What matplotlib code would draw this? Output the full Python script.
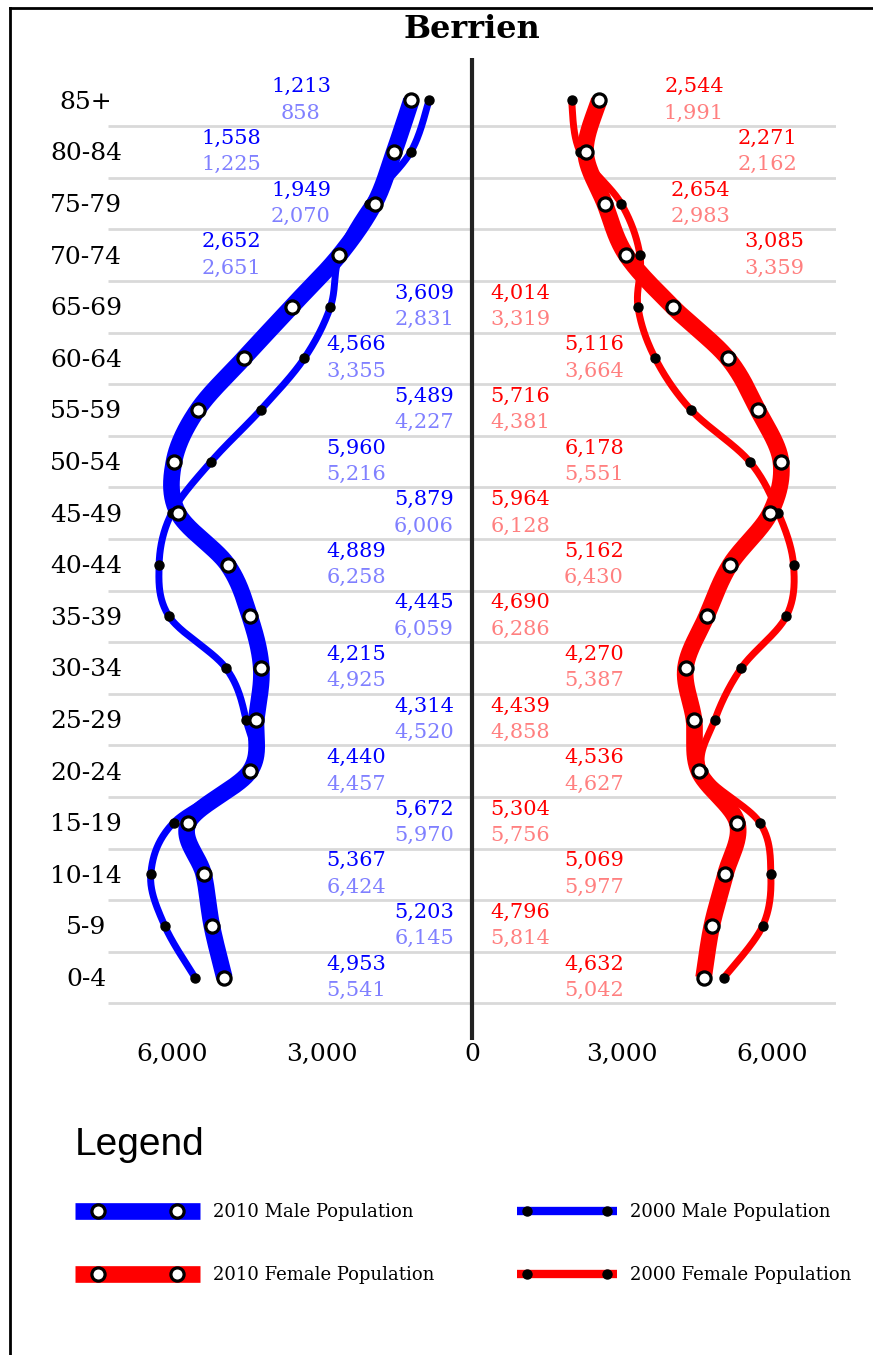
import numpy as np
import matplotlib
matplotlib.use('Agg')
import matplotlib.pyplot as plt
from matplotlib.lines import Line2D
from matplotlib.legend_handler import HandlerBase

# ---------------- data ----------------
age_groups = ['0-4', '5-9', '10-14', '15-19', '20-24', '25-29', '30-34', '35-39',
              '40-44', '45-49', '50-54', '55-59', '60-64', '65-69', '70-74',
              '75-79', '80-84', '85+']
male_2010 = [4953, 5203, 5367, 5672, 4440, 4314, 4215, 4445, 4889, 5879, 5960,
             5489, 4566, 3609, 2652, 1949, 1558, 1213]
male_2000 = [5541, 6145, 6424, 5970, 4457, 4520, 4925, 6059, 6258, 6006, 5216,
             4227, 3355, 2831, 2651, 2070, 1225, 858]
female_2010 = [4632, 4796, 5069, 5304, 4536, 4439, 4270, 4690, 5162, 5964, 6178,
               5716, 5116, 4014, 3085, 2654, 2271, 2544]
female_2000 = [5042, 5814, 5977, 5756, 4627, 4858, 5387, 6286, 6430, 6128, 5551,
               4381, 3664, 3319, 3359, 2983, 2162, 1991]
x_ticks = [-6000, -3000, 0, 3000, 6000]
x_tick_labels = ['6,000', '3,000', '0', '3,000', '6,000']
title = 'Berrien'
legend_labels = ['2010 Male Population', '2010 Female Population',
                 '2000 Male Population', '2000 Female Population']

# ---------------- layout (label placement) ----------------
male_label_x = [-2320, -960] * 7 + [-4820, -3420, -4820, -3420]
female_label_x = [2440, 960] * 7 + [6040, 4560, 5900, 4440]

BLUE = '#0000ff'
LBLUE = '#8080ff'
RED = '#ff0000'
LRED = '#ff8080'
SERIF = ['DejaVu Serif']

W, H = 873, 1355
fig = plt.figure(figsize=(W / 100, H / 100), dpi=100)


def fx(px):
    return px / W


def fy(py):
    return 1 - py / H


ax = fig.add_axes([fx(108), fy(1040), (836 - 108) / W, (1040 - 58) / H])
ax.set_xlim(-7280, 7280)
ax.set_ylim(-1.211, 17.82)
for s in ax.spines.values():
    s.set_visible(False)
ax.set_yticks([])
ax.set_xticks(x_ticks, labels=x_tick_labels)
ax.tick_params(axis='x', length=0, pad=2, labelsize=18)
for lab in ax.get_xticklabels():
    lab.set_family(SERIF)


def cardinal(xs, ys, n=40):
    P = np.column_stack([xs, ys]).astype(float)
    P = np.vstack([P[0], P, P[-1]])
    out = []
    for i in range(1, len(P) - 2):
        p0, p1, p2, p3 = P[i - 1], P[i], P[i + 1], P[i + 2]
        c1 = p1 + (p2 - p0) / 6
        c2 = p2 - (p3 - p1) / 6
        t = np.linspace(0, 1, n)[:, None]
        seg = ((1 - t) ** 3 * p1 + 3 * (1 - t) ** 2 * t * c1
               + 3 * (1 - t) * t ** 2 * c2 + t ** 3 * p2)
        out.append(seg if i == 1 else seg[1:])
    return np.vstack(out)


rows = np.arange(len(age_groups))

# grid lines and centre line
ax.hlines(rows - 0.5, -7280, 7280, color='#d9d9d9', lw=2, zorder=1)
ax.axvline(0, color='#222222', lw=3, zorder=2)

THICK = 12
THIN = 5
CIRC = dict(marker='o', ms=9.5, mfc='white', mec='black', mew=2.3, ls='none')
DOT = dict(marker='o', ms=6.5, color='black', ls='none')

m10 = -np.array(male_2010, float)
m00 = -np.array(male_2000, float)
f10 = np.array(female_2010, float)
f00 = np.array(female_2000, float)

for v00, v10, col in [(m00, m10, BLUE), (f00, f10, RED)]:
    c = cardinal(v00, rows)
    ax.plot(c[:, 0], c[:, 1], color=col, lw=THIN, solid_capstyle='round', zorder=3)
    c = cardinal(v10, rows)
    ax.plot(c[:, 0], c[:, 1], color=col, lw=THICK, solid_capstyle='butt', zorder=4)
    ax.plot(v00, rows, zorder=5, **DOT)
    ax.plot(v10, rows, zorder=6, **CIRC)

# value labels
for i in rows:
    ax.text(male_label_x[i], i + 0.26, f'{male_2010[i]:,}', color=BLUE,
            ha='center', va='center', fontsize=15, family=SERIF, zorder=7)
    ax.text(male_label_x[i], i - 0.25, f'{male_2000[i]:,}', color=LBLUE,
            ha='center', va='center', fontsize=15, family=SERIF, zorder=7)
    ax.text(female_label_x[i], i + 0.26, f'{female_2010[i]:,}', color=RED,
            ha='center', va='center', fontsize=15, family=SERIF, zorder=7)
    ax.text(female_label_x[i], i - 0.25, f'{female_2000[i]:,}', color=LRED,
            ha='center', va='center', fontsize=15, family=SERIF, zorder=7)
    ax.text(-7720, i - 0.04, age_groups[i], ha='center', va='center',
            fontsize=18, family=SERIF, clip_on=False)

# title
fig.text(fx(472), fy(30), title, ha='center', va='center', fontsize=23,
         weight='bold', family=SERIF)

# border
fig.add_artist(Line2D([fx(10), fx(10)], [fy(8), 0], color='black', lw=2))
fig.add_artist(Line2D([fx(10), 1], [fy(8), fy(8)], color='black', lw=2))


# ---------------- legend ----------------
class BarHandler(HandlerBase):
    def __init__(self, color, lw, inset_px, mk):
        super().__init__()
        self.color, self.lw, self.inset, self.mk = color, lw, inset_px * 0.72, mk

    def create_artists(self, legend, orig_handle, xdescent, ydescent, width,
                       height, fontsize, trans):
        y = (height - ydescent) / 2
        x0, x1 = -xdescent, -xdescent + width
        line = Line2D([x0, x1], [y, y], color=self.color, lw=self.lw,
                      solid_capstyle='butt', transform=trans)
        marks = Line2D([x0 + self.inset, x1 - self.inset], [y, y],
                       transform=trans, **self.mk)
        return [line, marks]


fig.text(fx(75), fy(1145), 'Legend', family=['Liberation Sans'], fontsize=28,
         ha='left', va='center')

FS = 13
fs_px = FS / 0.72
h_m10 = Line2D([], [], color=BLUE)
h_f10 = Line2D([], [], color=RED)
h_m00 = Line2D([], [], color=BLUE)
h_f00 = Line2D([], [], color=RED)

fig.legend([h_m10, h_f10], legend_labels[:2], loc='upper left',
           bbox_to_anchor=(fx(75), fy(1203)), frameon=False,
           borderpad=0, borderaxespad=0, handlelength=125 / fs_px,
           handletextpad=13 / fs_px, labelspacing=2.51,
           prop={'family': SERIF, 'size': FS},
           handler_map={h_m10: BarHandler(BLUE, THICK, 23, CIRC),
                        h_f10: BarHandler(RED, THICK, 23, CIRC)})
fig.legend([h_m00, h_f00], legend_labels[2:], loc='upper left',
           bbox_to_anchor=(fx(517), fy(1203)), frameon=False,
           borderpad=0, borderaxespad=0, handlelength=100 / fs_px,
           handletextpad=13 / fs_px, labelspacing=2.51,
           prop={'family': SERIF, 'size': FS},
           handler_map={h_m00: BarHandler(BLUE, THIN + 1, 10, DOT),
                        h_f00: BarHandler(RED, THIN + 1, 10, DOT)})

fig.savefig('out.png', dpi=100, facecolor='white')
